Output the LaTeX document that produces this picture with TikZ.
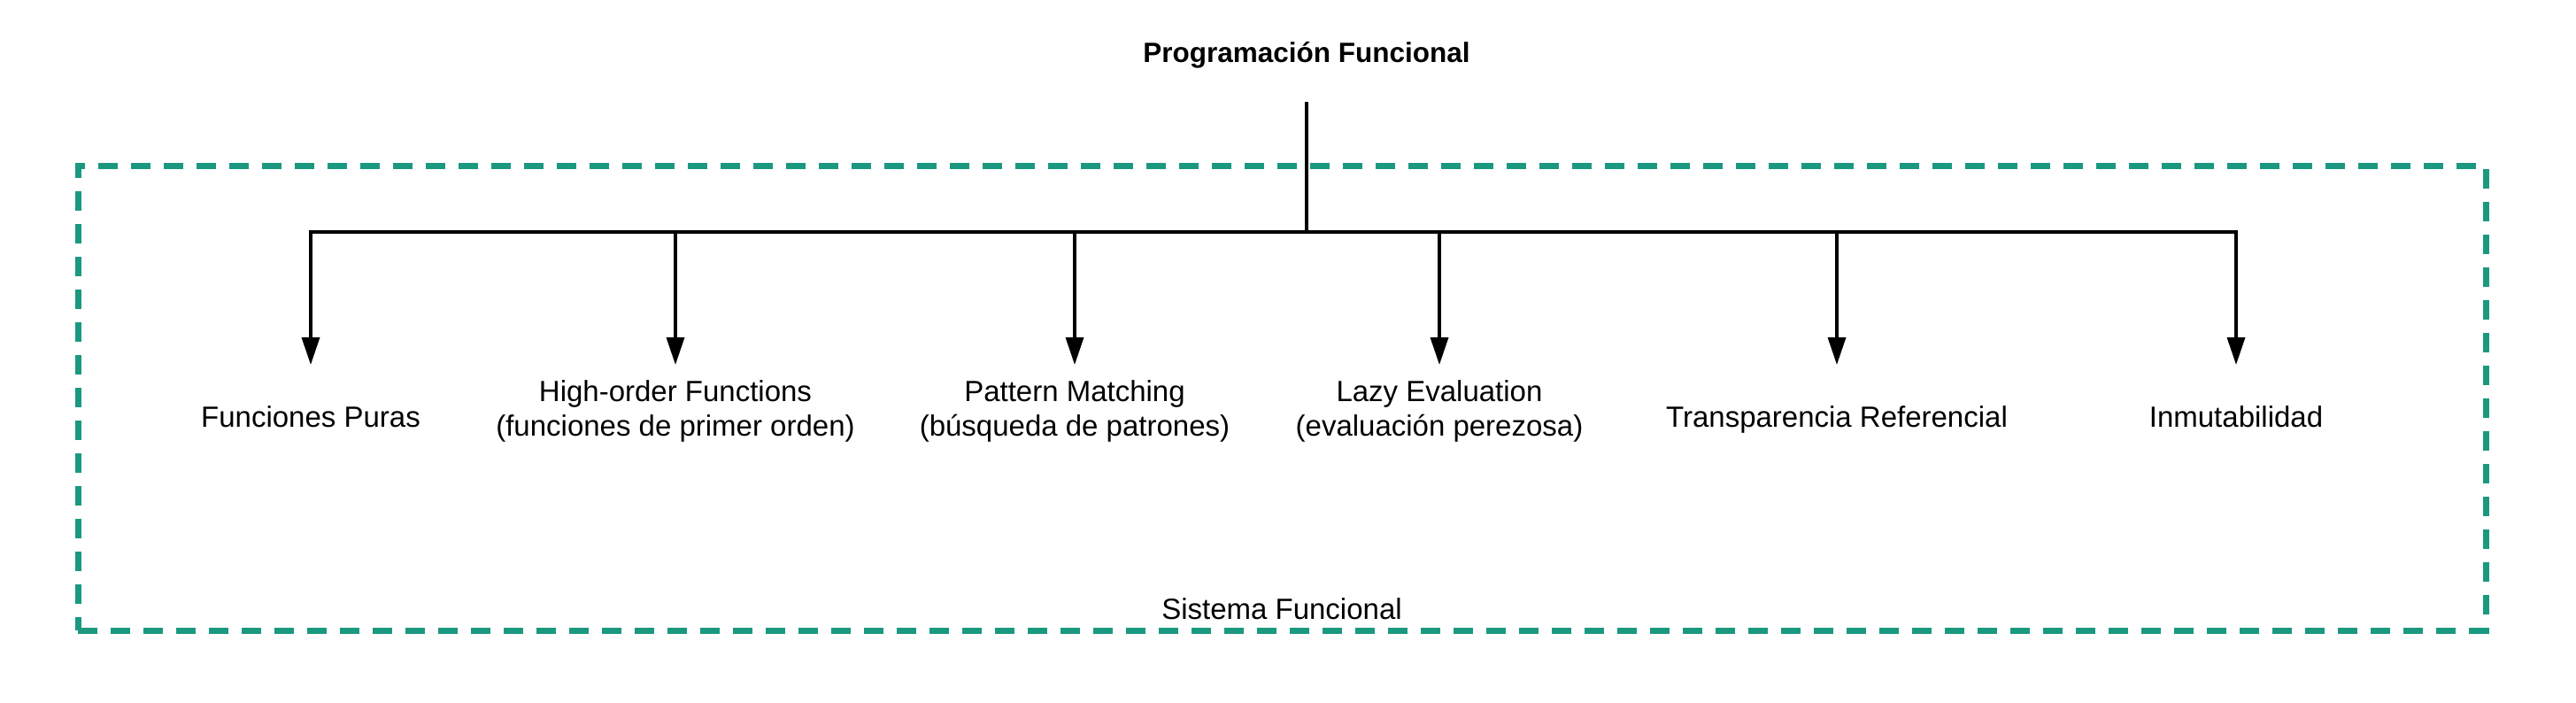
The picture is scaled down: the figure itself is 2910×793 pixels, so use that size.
\documentclass[tikz,border=0pt]{standalone}
\usepackage{fontspec}
\setmainfont{Liberation Sans}
\usetikzlibrary{arrows.meta}
\definecolor{groupgreen}{HTML}{1B9980}
\newcommand{\twolines}[2]{\vbox{\halign{\hfil##\hfil\cr #1\cr #2\cr}}}
\begin{document}
\begin{tikzpicture}[x=1pt,y=-1pt,
  labeltext/.style={inner sep=0pt, anchor=base, font=\fontsize{33}{39}\selectfont},
  titletext/.style={inner sep=0pt, anchor=base, font=\fontsize{31.5}{38}\selectfont\bfseries},
  groupbox/.style={draw=groupgreen, line width=7pt, dash pattern=on 22pt off 15pt, inner sep=0pt},
  wire/.style={draw=black, line width=3.5pt},
  arrowwire/.style={wire, -{Triangle[length=31pt,width=20pt]}}
]
\useasboundingbox (0,0) rectangle (2910,793);

% group container
\node[groupbox, minimum width=2720pt, minimum height=525pt] (group) at (1448,449.5) {};
\node[labeltext] (grouplabel) at (1448,699) {Sistema Funcional};

% root
\node[titletext] (root) at (1476,70) {Programación Funcional};
\coordinate (rootout) at (1476,115);
\coordinate (hub) at (1476,262);

% children (labels)
\node[labeltext] (c1) at (351,482) {Funciones Puras};
\node[labeltext] (c2) at (763,492) {\twolines{High-order Functions}{(funciones de primer orden)}};
\node[labeltext] (c3) at (1214,492) {\twolines{Pattern Matching}{(búsqueda de patrones)}};
\node[labeltext] (c4) at (1626,492) {\twolines{Lazy Evaluation}{(evaluación perezosa)}};
\node[labeltext] (c5) at (2075,482) {Transparencia Referencial};
\node[labeltext] (c6) at (2526,482) {Inmutabilidad};

% arrow tips
\coordinate (t1) at (351,412);
\coordinate (t2) at (763,412);
\coordinate (t3) at (1214,412);
\coordinate (t4) at (1626,412);
\coordinate (t5) at (2075,412);
\coordinate (t6) at (2526,412);

% connectors
\draw[wire] (rootout) -- (hub);
\foreach \t in {t1,t2,t3,t4,t5,t6}{
  \draw[arrowwire] (hub) -| (\t);
}
\end{tikzpicture}
\end{document}
